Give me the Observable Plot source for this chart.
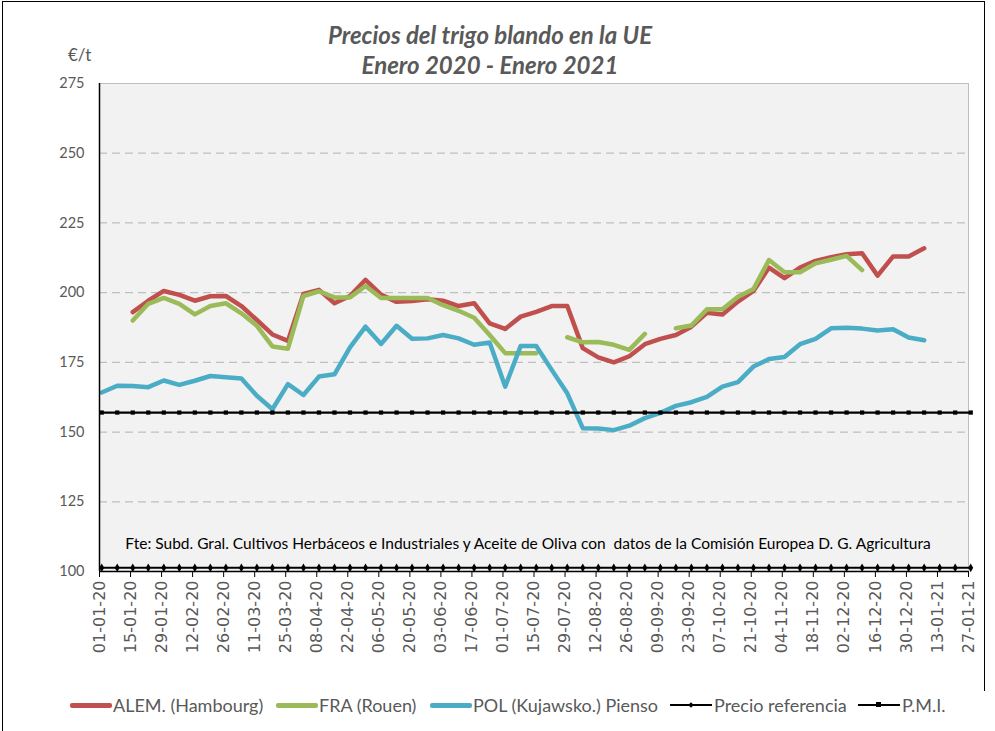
<!DOCTYPE html>
<html>
<head>
<meta charset="utf-8">
<script src="https://cdn.jsdelivr.net/npm/d3@7"></script>
<script src="https://cdn.jsdelivr.net/npm/@observablehq/plot@0.6"></script>
<style>
  body { margin: 0; background: #fff; }
  #wrap { position: relative; width: 995px; height: 731px; overflow: hidden; font-family: Lato, "Open Sans", sans-serif; }
  #borderL { position: absolute; left: 2px; top: 1px; width: 982px; height: 800px; border-left: 1.5px solid #000; border-top: 1.5px solid #000; pointer-events: none; }
  #borderR { position: absolute; left: 984px; top: 1px; width: 0; height: 690px; border-left: 1.5px solid #000; pointer-events: none; }
  #head { position: relative; height: 71px; }
  .t { position: absolute; left: 0; width: 980px; text-align: center; font-style: italic; font-weight: 700; font-size: 24px; line-height: 28px; color: #595959; }
  #unit { position: absolute; left: 68px; top: 45px; font-size: 17px; line-height: 20px; color: #595959; }
  #legend { position: relative; height: 51px; }
  .item { position: absolute; top: 14px; height: 22px; display: flex; align-items: center; font-size: 18px; color: #595959; white-space: nowrap; }
  .sw { position: relative; display: inline-block; width: 42px; height: 5px; border-radius: 2px; margin-right: 1px; }
  .swk { position: relative; display: inline-block; width: 42px; height: 2px; background: #000; margin-right: 2px; }
  .mk { position: absolute; left: 18px; top: -2px; width: 5px; height: 5px; background: #000; }
  .mkd { position: absolute; left: 19px; top: -1.5px; width: 4px; height: 4px; background: #000; transform: rotate(45deg); }
</style>
</head>
<body>
<div id="wrap">
  <div id="head">
    <div class="t" style="top:21px">Precios del trigo blando en la UE</div>
    <div class="t" style="top:51px">Enero 2020 - Enero 2021</div>
    <div id="unit">€/t</div>
  </div>
  <div id="chart"></div>
  <div id="legend">
    <div class="item" style="left:70px"><span class="sw" style="background:#c0504d"></span>ALEM. (Hambourg)</div>
    <div class="item" style="left:276px"><span class="sw" style="background:#9bbb59"></span>FRA (Rouen)</div>
    <div class="item" style="left:430px"><span class="sw" style="background:#4bacc6"></span>POL (Kujawsko.) Pienso</div>
    <div class="item" style="left:670px"><span class="swk"><span class="mkd"></span></span>Precio referencia</div>
    <div class="item" style="left:858px"><span class="swk"><span class="mk"></span></span>P.M.I.</div>
  </div>
  <div id="borderL"></div>
  <div id="borderR"></div>
</div>
<script>
// Weekly quotation dates
const dates = [
  "2020-01-02","2020-01-09","2020-01-16","2020-01-23","2020-01-30",
  "2020-02-06","2020-02-13","2020-02-20","2020-02-27",
  "2020-03-05","2020-03-12","2020-03-19","2020-03-26",
  "2020-04-02","2020-04-09","2020-04-16","2020-04-23","2020-04-30",
  "2020-05-07","2020-05-14","2020-05-21","2020-05-28",
  "2020-06-04","2020-06-11","2020-06-18","2020-06-25",
  "2020-07-02","2020-07-09","2020-07-16","2020-07-23","2020-07-30",
  "2020-08-06","2020-08-13","2020-08-20","2020-08-27",
  "2020-09-03","2020-09-10","2020-09-17","2020-09-24",
  "2020-10-01","2020-10-08","2020-10-15","2020-10-22","2020-10-29",
  "2020-11-05","2020-11-12","2020-11-19","2020-11-26",
  "2020-12-03","2020-12-10","2020-12-17","2020-12-24","2020-12-31",
  "2021-01-07","2021-01-14","2021-01-21","2021-01-28"
];
// ALEM. (Hambourg)
const alem = [
  null,null,193,197.1,200.6,199.2,197.1,198.7,198.8,195.2,
  190.2,185,182.7,199.5,201,196.2,198.8,204.6,199.3,196.7,
  197,197.6,197.1,195.2,196.2,189,187,191.4,193.1,195.2,
  195.2,180.1,176.8,175,177.2,181.5,183.4,184.8,187.8,192.8,
  192.2,196.8,200.6,209,205.2,209,211.4,212.7,213.8,214.1,
  206.1,213,213,215.9,null,null,null
];
// FRA (Rouen)
const fra = [
  null,null,190,196,198.1,196,192.2,195.2,196.2,192.6,
  188.1,180.7,179.9,198.8,200.5,198.3,198.3,202.4,198.1,198.1,
  198.1,198.1,195.5,193.5,191,184.8,178.3,178.3,178.3,null,
  184,182.2,182.3,181.3,179.5,185.2,null,187.2,188.2,194,
  194,198.5,201.3,211.7,207.3,207.3,210.5,211.8,213.2,208.1,
  null,null,null,null,null,null,null
];
// POL (Kujawsko.) Pienso
const pol = [
  164.2,166.6,166.5,166.1,168.5,166.9,168.4,170.1,169.7,169.2,
  163,158.2,167.2,163.3,169.9,170.7,180.4,187.8,181.6,188.1,
  183.5,183.6,184.8,183.6,181.3,182.1,166.3,180.9,180.9,172.3,
  163.9,151.4,151.3,150.7,152.3,155,156.9,159.4,160.7,162.6,
  166.3,167.9,173.5,176.2,176.9,181.5,183.4,187.2,187.4,187.1,
  186.4,186.9,183.9,182.9,null,null,null
];
const precioReferencia = 101.31;
const pmi = 157;
const tickLabels = [
  "01-01-20","15-01-20","29-01-20","12-02-20","26-02-20","11-03-20","25-03-20",
  "08-04-20","22-04-20","06-05-20","20-05-20","03-06-20","17-06-20","01-07-20",
  "15-07-20","29-07-20","12-08-20","26-08-20","09-09-20","23-09-20","07-10-20",
  "21-10-20","04-11-20","18-11-20","02-12-20","16-12-20","30-12-20","13-01-21","27-01-21"
];
const yTicks = [100,125,150,175,200,225,250,275];
const gridValues = [125,150,175,200,225,250];
const sourceText = "Fte: Subd. Gral. Cultivos Herbáceos e Industriales y Aceite de Oliva con  datos de la Comisión Europea D. G. Agricultura";

const parseTick = s => { const [d, m, y] = s.split("-").map(Number); return new Date(Date.UTC(2000 + y, m - 1, d)); };
const tickDates = tickLabels.map(parseTick);
const toRows = vals => dates.map((d, i) => ({date: new Date(d + "T00:00:00Z"), value: vals[i] == null ? NaN : vals[i]}));
const constRows = v => dates.map(d => ({date: new Date(d + "T00:00:00Z"), value: v}));

const lineOpts = (color) => ({x: "date", y: "value", stroke: color, strokeWidth: 4.5, strokeLinejoin: "round", strokeLinecap: "round"});

const chart = Plot.plot({
  width: 995,
  height: 609,
  marginTop: 12,
  marginBottom: 109,
  marginLeft: 99,
  marginRight: 27,
  style: {background: "transparent", overflow: "visible", fontFamily: "Lato, 'Open Sans', sans-serif"},
  x: {type: "utc", domain: [tickDates[0], tickDates[tickDates.length - 1]]},
  y: {domain: [100, 275]},
  marks: [
    Plot.frame({fill: "#f2f2f2", stroke: "#bfbfbf"}),
    Plot.ruleY(gridValues, {stroke: "#bfbfbf", strokeWidth: 1.3, strokeDasharray: "8,5"}),
    Plot.text([sourceText], {text: d => d, frameAnchor: "bottom", dx: -6, dy: -23, fontSize: 15.5, fill: "#000"}),
    Plot.line(toRows(alem), lineOpts("#c0504d")),
    Plot.line(toRows(fra), lineOpts("#9bbb59")),
    Plot.line(toRows(pol), lineOpts("#4bacc6")),
    Plot.line(constRows(precioReferencia), {x: "date", y: "value", stroke: "#000", strokeWidth: 2}),
    Plot.dot(constRows(precioReferencia), {x: "date", y: "value", symbol: "diamond", r: 2.6, fill: "#000"}),
    Plot.line(constRows(pmi), {x: "date", y: "value", stroke: "#000", strokeWidth: 2.2}),
    Plot.dot(constRows(pmi), {x: "date", y: "value", symbol: "square", r: 2.4, fill: "#000"}),
    Plot.ruleY([100], {stroke: "#000", strokeWidth: 1.5}),
    Plot.ruleX([tickDates[0]], {stroke: "#000", strokeWidth: 1.5}),
    Plot.axisY({ticks: yTicks, tickFormat: d => String(d), tickSize: 0, tickPadding: 15, fontSize: 14.5, fill: "#595959", label: null}),
    Plot.axisX({ticks: tickDates, tickFormat: d3.utcFormat("%d-%m-%y"), tickRotate: -90, tickSize: 6, tickPadding: 3,
      fontSize: 16, fontFamily: "DejaVu Sans", fill: "#595959", stroke: "#000", label: null})
  ]
});
document.getElementById("chart").appendChild(chart);
</script>
</body>
</html>
